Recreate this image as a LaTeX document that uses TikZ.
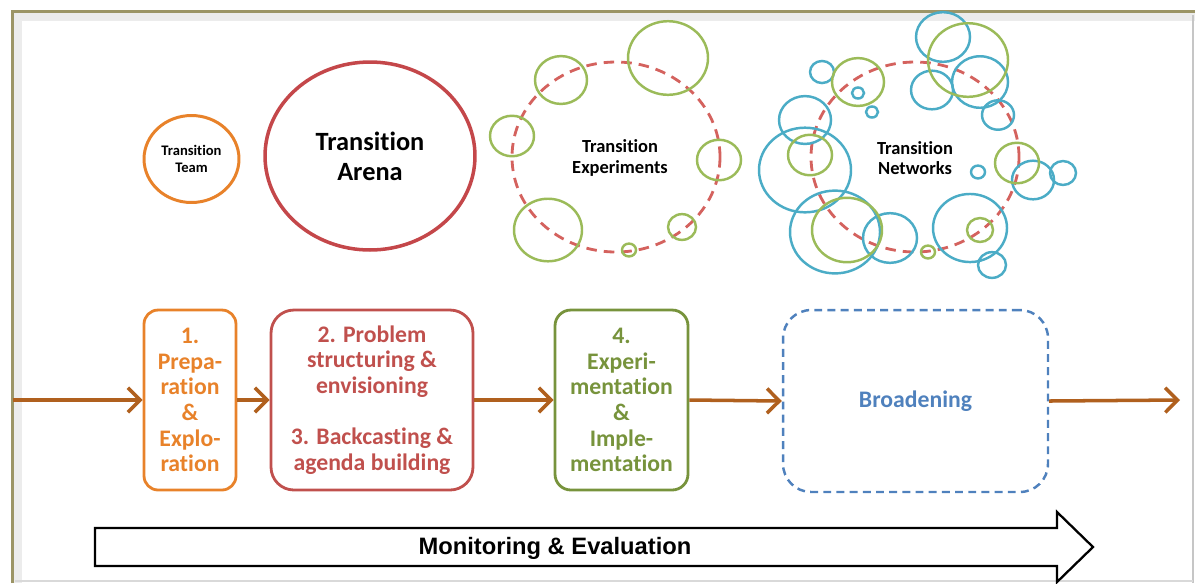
\documentclass[tikz,border=0pt]{standalone}
\usepackage{fontspec}
\setmainfont{Carlito}[Ligatures=NoCommon]
\newfontfamily\arialf{Liberation Sans}
\usetikzlibrary{arrows.meta,shapes.geometric}
\definecolor{orng}{HTML}{E8822A}
\definecolor{redc}{HTML}{C4474A}
\definecolor{redt}{HTML}{C0504D}
\definecolor{dashred}{HTML}{D4625E}
\definecolor{grn}{HTML}{9BBB59}
\definecolor{dkgrn}{HTML}{77933C}
\definecolor{nettl}{HTML}{4BACC6}
\definecolor{blu}{HTML}{4F81BD}
\definecolor{brn}{HTML}{B0601E}
\definecolor{olv}{HTML}{9C9566}
\tikzset{
  stagebox/.style={draw, line width=1.6pt, inner sep=0pt, minimum height=3.6cm, align=center,
    font=\fontsize{13.5}{14.6}\selectfont\bfseries},
  flow/.style={draw=brn, line width=2pt, -{Straight Barb[length=7pt,width=14pt]}},
  ring/.style={line width=1.4pt},
  roundlabel/.style={ellipse, draw, align=center, inner sep=0pt},
  bigdash/.style={draw=dashred, line width=1.6pt, dash pattern=on 6pt off 4pt},
}
\begin{document}
\begin{tikzpicture}[x=0.02cm,y=-0.02cm]
\useasboundingbox (0,0) rectangle (1195,583);
% frame
\draw[gray!15, line width=4pt] (18,583) -- (18,17) -- (1195,17);
\draw[gray!45, line width=0.6pt] (1193,15) -- (1193,583);
\draw[gray!30, line width=0.6pt] (15,581) -- (1193,581);
\draw[olv, line width=1.8pt] (12.5,583) -- (12.5,11.5) -- (1195,11.5);

% top row labelled circles
\node[roundlabel, draw=orng, line width=1.7pt, minimum width=1.9cm, minimum height=1.74cm,
  font=\fontsize{8.3}{9.2}\selectfont\bfseries] (team) at (191.5,159) {Transition\\Team};
\node[roundlabel, draw=redc, line width=2pt, minimum width=4.2cm, minimum height=3.76cm,
  font=\fontsize{15}{17}\selectfont\bfseries] (arena) at (370,156) {Transition\\Arena};

% experiments
\draw[bigdash] (616,157) ellipse [x radius=104, y radius=95];
\foreach \cx/\cy/\r in {668/58/40, 561/80/26, 512/136/22, 719/160/22, 548/230/34, 682/227/14, 629/250/7}
  \draw[ring, grn] (\cx,\cy) ellipse [x radius=\r, y radius=0.92*\r];
\node[align=center, inner sep=0pt, font=\fontsize{10.5}{11.6}\selectfont\bfseries] (exp) at (620,158) {Transition\\Experiments};

% networks
\draw[bigdash] (915,157) ellipse [x radius=104, y radius=95];
\foreach \cx/\cy/\r in {943/37/27, 822/72/12, 858/93/6, 872/112/6, 932/90/21, 980/82/28, 998/115/16,
  805/120/26, 805/170/46, 1033/180/21, 1063/173/13, 978/172/7, 835/232/45, 890/238/27, 970/228/37, 992/265/14}
  \draw[ring, nettl] (\cx,\cy) ellipse [x radius=\r, y radius=0.92*\r];
\foreach \cx/\cy/\r in {968/60/40, 858/82/26, 810/155/22, 1017/163/22, 847/230/35, 928/252/7, 980/230/13}
  \draw[ring, grn] (\cx,\cy) ellipse [x radius=\r, y radius=0.92*\r];
\node[align=center, inner sep=0pt, font=\fontsize{10.5}{11.6}\selectfont\bfseries] (net) at (915,158) {Transition\\Networks};

% stages
\node[stagebox, draw=orng, text=orng, rounded corners=8pt, minimum width=1.84cm] (s1) at (190,400)
  {1.\\Prepa-\\ration\\\&\\Explo-\\ration};
\node[stagebox, draw=redt, text=redt, rounded corners=13pt, minimum width=4.04cm] (s2) at (372,400)
  {2. Problem\\structuring \&\\envisioning\\[14.6pt]3. Backcasting \&\\agenda building};
\node[stagebox, draw=dkgrn, text=dkgrn, rounded corners=9pt, minimum width=2.66cm] (s3) at (621.5,400)
  {4.\\Experi-\\mentation\\\&\\Imple-\\mentation};
\node[stagebox, draw=blu, text=blu, rounded corners=16pt, minimum width=5.3cm, minimum height=3.64cm,
  line width=1.4pt, dash pattern=on 4.5pt off 3pt] (s4) at (915.5,401) {Broadening};

\coordinate (start) at (12.5,400);
\coordinate (end) at (1180,400);
\draw[flow] (start) -- (s1.west);
\draw[flow] (s1.east) -- (s2.west);
\draw[flow] (s2.east) -- (s3.west);
\draw[flow] (s3.east) -- (s4.west);
\draw[flow] (s4.east) -- (end);

% monitoring arrow
\draw[black, line width=1.3pt, fill=white, line join=miter]
  (95,528) -- (1057,528) -- (1057,512) -- (1093,547) -- (1057,582) -- (1057,566) -- (95,566) -- cycle;
\node[inner sep=0pt, font=\arialf\fontsize{13.5}{15}\selectfont\bfseries] (me) at (555,548) {Monitoring \& Evaluation};
\end{tikzpicture}
\end{document}
